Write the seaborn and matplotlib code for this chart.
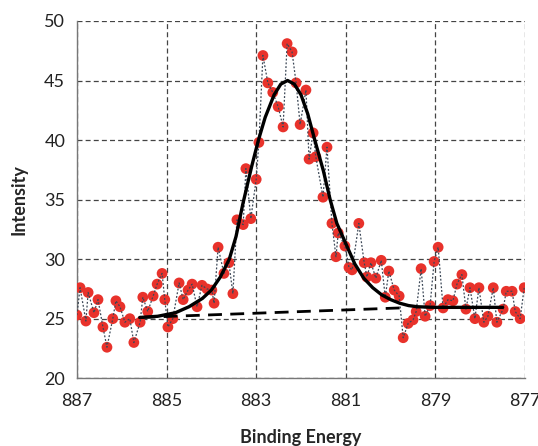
import matplotlib
matplotlib.use("Agg")
import matplotlib.pyplot as plt
import seaborn as sns
import pandas as pd

# Measured spectrum (binding energy in eV, intensity)
energy = [887.00, 886.93, 886.80, 886.75, 886.62, 886.53, 886.42, 886.33, 886.20, 886.13,
          886.04, 885.93, 885.82, 885.73, 885.59, 885.53, 885.42, 885.30, 885.21, 885.10,
          885.04, 884.97, 884.86, 884.72, 884.63, 884.52, 884.43, 884.32, 884.21, 884.10,
          883.99, 883.94, 883.85, 883.72, 883.61, 883.52, 883.43, 883.29, 883.23, 883.12,
          883.00, 882.94, 882.85, 882.74, 882.63, 882.51, 882.40, 882.31, 882.20, 882.11,
          882.02, 881.89, 881.82, 881.73, 881.67, 881.51, 881.42, 881.31, 881.22, 881.17,
          881.02, 880.93, 880.86, 880.71, 880.59, 880.53, 880.44, 880.33, 880.21, 880.12,
          880.04, 879.92, 879.81, 879.72, 879.61, 879.50, 879.43, 879.32, 879.23, 879.12,
          879.03, 878.94, 878.83, 878.72, 878.61, 878.52, 878.41, 878.32, 878.23, 878.12,
          878.03, 877.92, 877.83, 877.71, 877.63, 877.49, 877.42, 877.29, 877.22, 877.11,
          877.02]
intensity = [25.3, 27.6, 24.8, 27.2, 25.5, 26.6, 24.3, 22.6, 25.0, 26.5,
             26.0, 24.7, 25.0, 23.0, 24.7, 26.8, 25.6, 26.9, 27.9, 28.8,
             26.6, 24.3, 25.0, 28.0, 26.6, 27.4, 27.9, 26.0, 27.8, 27.5,
             27.4, 26.3, 31.0, 28.8, 29.7, 27.1, 33.3, 32.9, 37.6, 33.4,
             36.7, 39.8, 47.1, 44.8, 44.0, 42.8, 41.1, 48.1, 47.4, 44.8,
             41.3, 44.2, 38.4, 40.6, 38.6, 35.2, 39.4, 33.0, 30.2, 32.2,
             31.1, 29.3, 29.1, 33.0, 29.7, 28.5, 29.7, 28.4, 29.9, 26.8,
             29.0, 27.4, 26.9, 23.4, 24.6, 24.9, 25.6, 29.2, 25.2, 26.1,
             29.8, 31.0, 25.9, 26.6, 26.5, 27.9, 28.7, 25.8, 27.6, 25.0,
             27.6, 24.7, 25.2, 27.6, 24.7, 25.8, 27.3, 27.3, 25.6, 25.0,
             27.6]

# Fitted envelope
fit_energy = [885.6, 885.2, 884.8, 884.5, 884.2, 884.0, 883.8, 883.6, 883.45, 883.3,
              883.1, 882.95, 882.8, 882.6, 882.45, 882.3, 882.15, 882.0, 881.85, 881.7,
              881.5, 881.35, 881.2, 881.0, 880.8, 880.6, 880.4, 880.2, 880.0, 879.8,
              879.6, 879.4, 879.0, 877.5]
fit_intensity = [25.1, 25.2, 25.5, 26.0, 26.7, 27.4, 28.5, 30.0, 31.9, 34.6,
                 37.8, 40.0, 41.9, 43.8, 44.7, 45.0, 44.7, 43.8, 42.2, 40.1,
                 37.4, 35.0, 33.0, 31.3, 29.6, 28.4, 27.6, 27.0, 26.6, 26.3,
                 26.1, 26.0, 25.95, 25.95]

# Background line
bg_energy = [885.6, 879.8]
bg_intensity = [25.1, 25.9]

x_ticks = [887, 885, 883, 881, 879, 877]
y_ticks = [20, 25, 30, 35, 40, 45, 50]

sns.set_style("white")
plt.rcParams['font.family'] = ['Lato', 'DejaVu Sans']

df = pd.DataFrame({"energy": energy, "intensity": intensity})
fit_df = pd.DataFrame({"energy": fit_energy, "intensity": fit_intensity})
bg_df = pd.DataFrame({"energy": bg_energy, "intensity": bg_intensity})

fig = plt.figure(figsize=(5.38, 4.46), dpi=100)
ax = fig.add_axes([0.143, 0.152, 0.833, 0.801])

sns.scatterplot(data=df, x="energy", y="intensity", ax=ax, color="#e8322b",
                s=60, edgecolor="none", zorder=3, linewidth=0)
sns.lineplot(data=df, x="energy", y="intensity", ax=ax, sort=False,
             color="#3b4756", lw=0.9, linestyle=(0, (1.5, 1.5)), zorder=4)
sns.lineplot(data=bg_df, x="energy", y="intensity", ax=ax, color="black",
             lw=2.0, linestyle=(0, (5, 3)), zorder=5)
sns.lineplot(data=fit_df, x="energy", y="intensity", ax=ax, color="black",
             lw=2.4, zorder=6)

ax.set_xlim(887, 877)
ax.set_ylim(20, 50)
ax.set_xticks(x_ticks)
ax.set_yticks(y_ticks)
ax.set_xticklabels([str(t) for t in x_ticks])
ax.set_yticklabels([str(t) for t in y_ticks])

ax.grid(True, color="#444444", linestyle=(0, (4, 2.5)), lw=0.9)
ax.set_axisbelow(True)
for s in ["top", "right"]:
    ax.spines[s].set_visible(False)
for s in ["left", "bottom"]:
    ax.spines[s].set_color("#777777")
    ax.spines[s].set_linewidth(1.0)

ax.tick_params(axis="both", which="major", length=5, width=1, color="#777777",
               labelsize=13, direction="out", labelcolor="#222222")
ax.tick_params(axis="x", pad=6)

ax.set_xlabel("Binding Energy", fontsize=13, fontweight="bold", labelpad=14)
ax.set_ylabel("Intensity", fontsize=13, fontweight="bold", labelpad=12)

fig.savefig("out.png", dpi=100)
